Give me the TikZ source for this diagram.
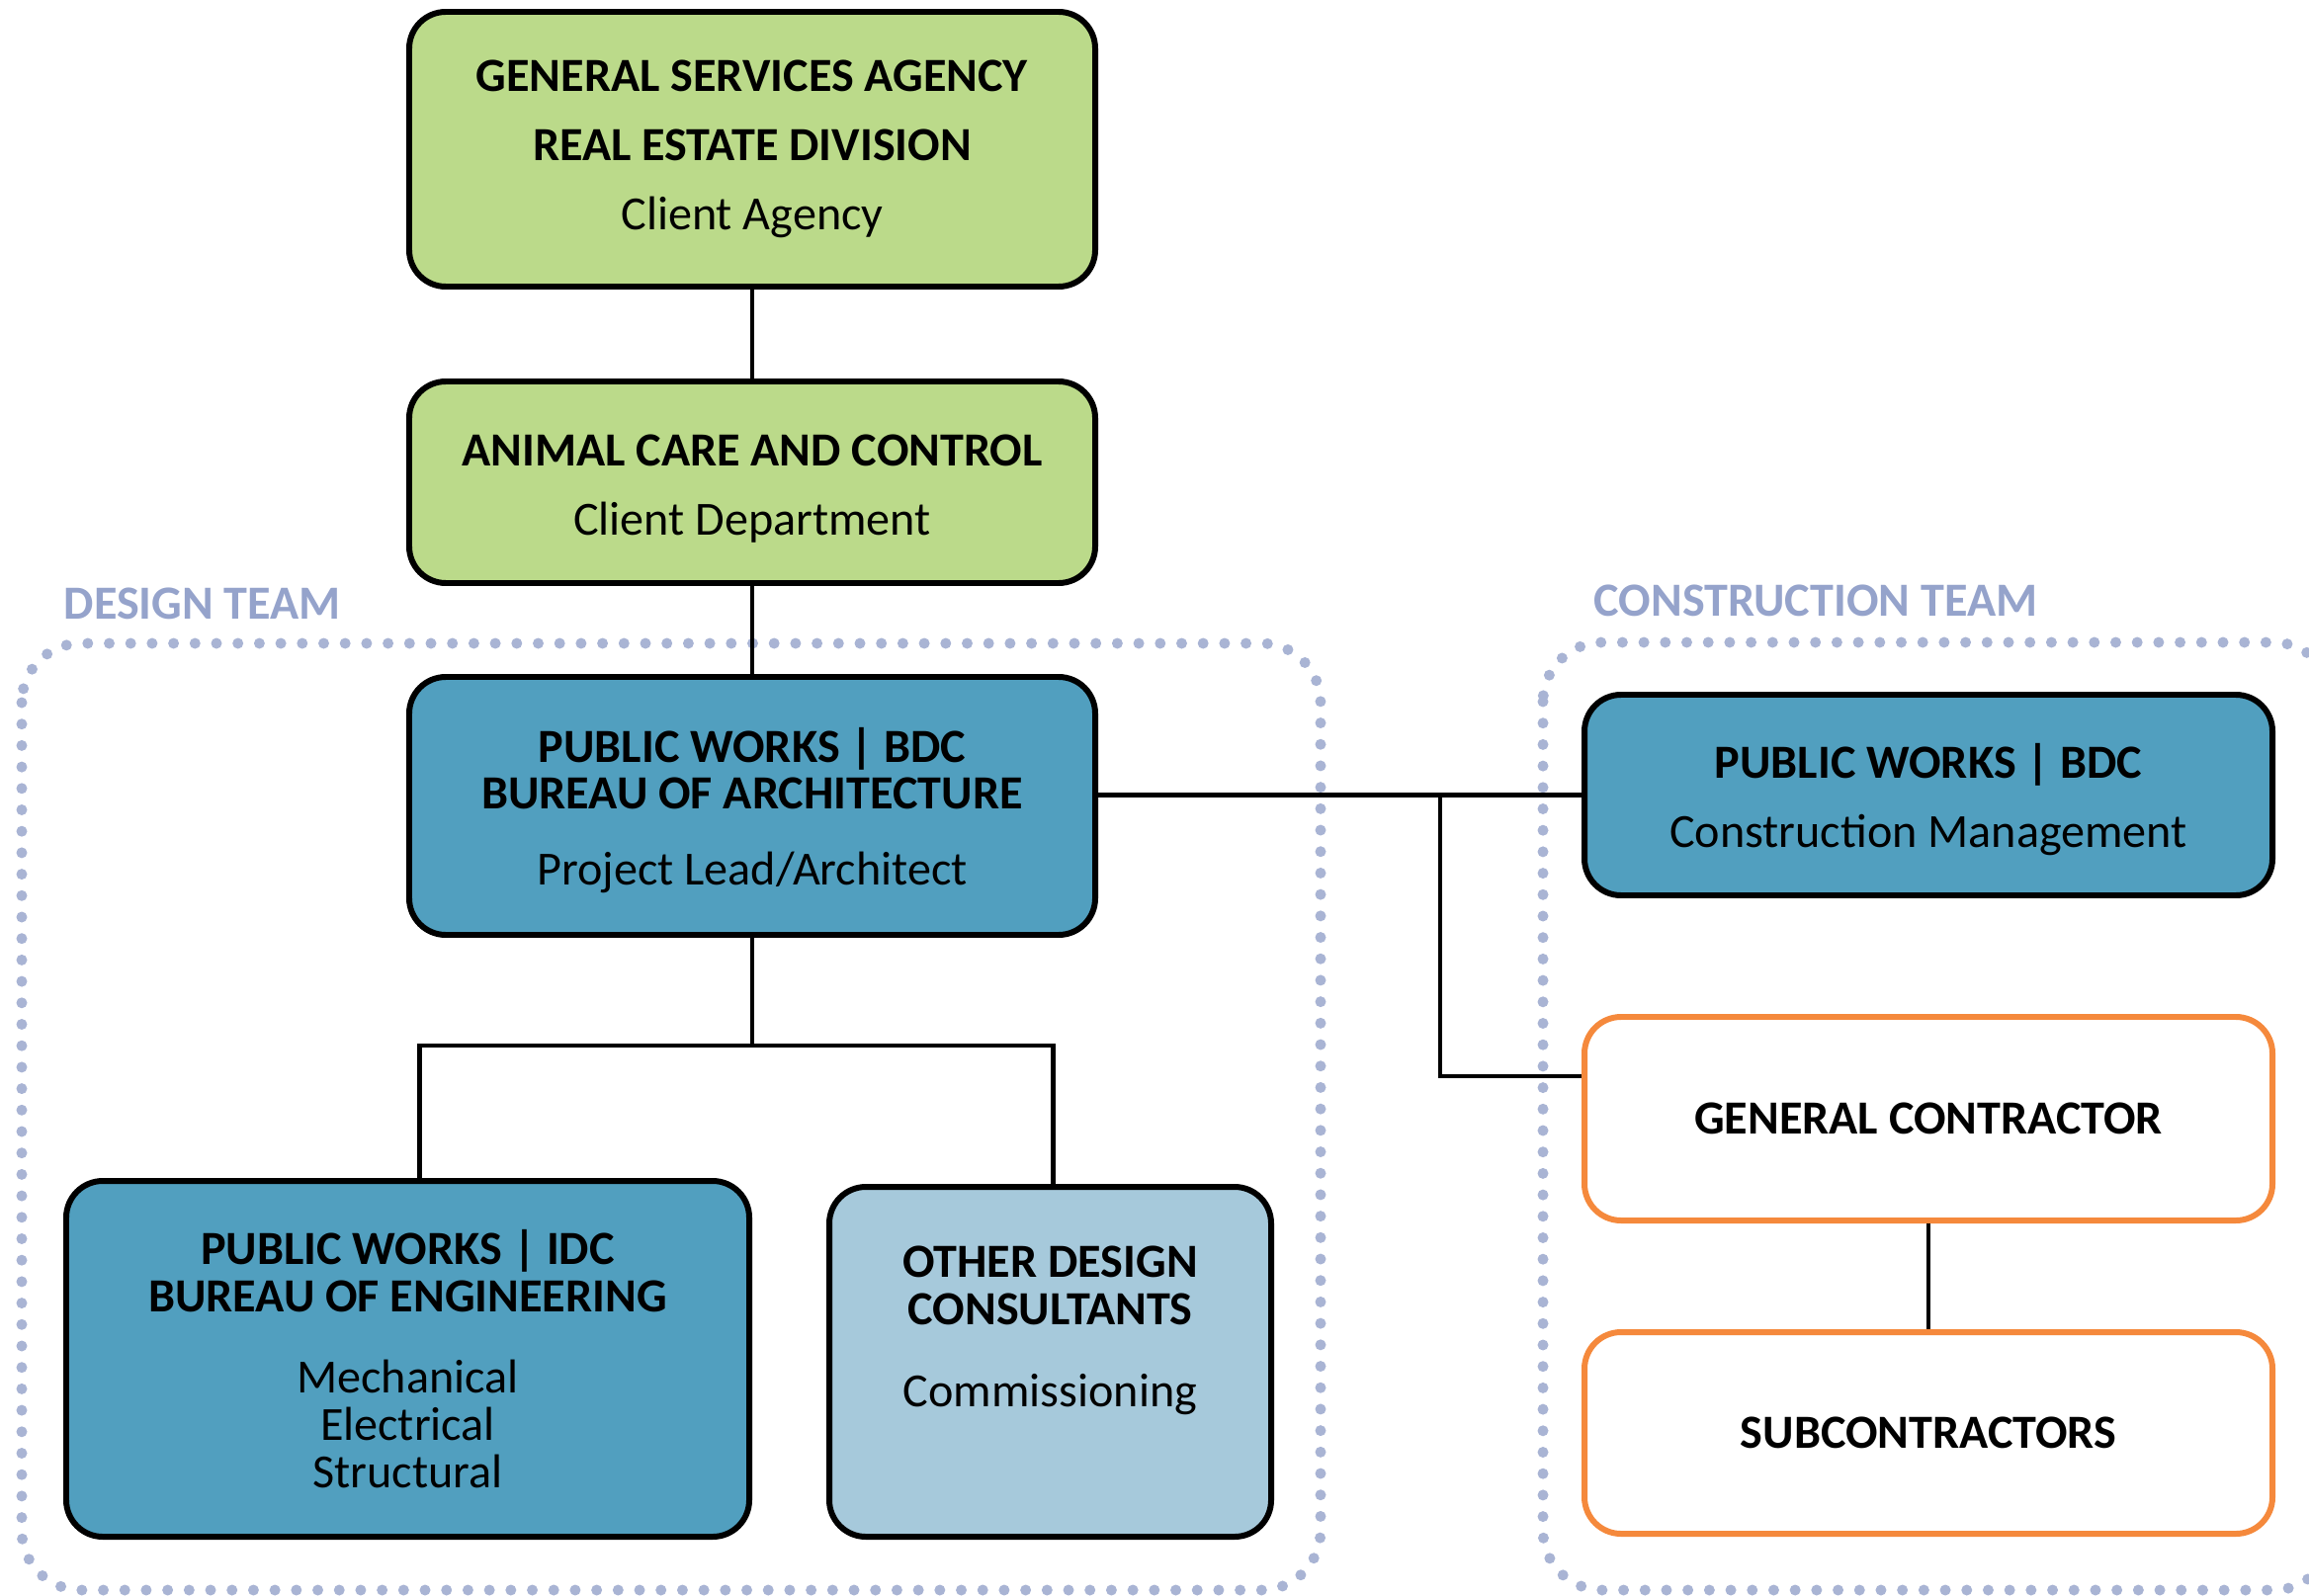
\documentclass[tikz,border=0pt]{standalone}
\usepackage{fontspec}
\setmainfont{Carlito}
\definecolor{clientgreen}{HTML}{BBDA8A}
\definecolor{bdcblue}{HTML}{519FBF}
\definecolor{otherblue}{HTML}{A6C9DB}
\definecolor{gcorange}{HTML}{F5893C}
\definecolor{teamdot}{HTML}{A9B4D4}
\definecolor{teamtext}{HTML}{95A3CB}
\newcommand{\lowerby}{\rule{0pt}{.44cm}}
\begin{document}
\begin{tikzpicture}
        \tikzstyle{block} = [rectangle, rounded corners=.37cm, text=black, align=center, draw=black, line width=1.7pt, font=\fontsize{13.7}{13.6}\selectfont, inner sep=0pt]
        \tikzstyle{line} = [draw=black, line width=1.35pt]
        \tikzstyle{team} = [draw=teamdot, line width=.11cm, line cap=round, dash pattern=on 0pt off .217cm, rounded corners=.6cm]
        \tikzstyle{teamlabel} = [anchor=west, text=teamtext, font=\bfseries\fontsize{13.7}{14}\selectfont, inner sep=0pt]
        \clip (0,0) rectangle (23.36,-16.14);
        % team frames
        \draw[team] (0.22,-6.51) rectangle (13.36,-16.09);
        \draw[team] (15.61,-6.50) rectangle (23.60,-16.09);
        \node[teamlabel] (designlbl) at (0.64,-6.11) {DESIGN TEAM};
        \node[teamlabel] (conslbl) at (16.12,-6.08) {CONSTRUCTION TEAM};
        % client side
        \node[block,fill=clientgreen, minimum width=6.94cm, minimum height=2.78cm] (gsa) at (7.61,-1.51) {\textbf{GENERAL SERVICES AGENCY}\\[.22cm]\textbf{REAL ESTATE DIVISION}\\[.22cm]Client Agency};
        \node[block,fill=clientgreen, minimum width=6.94cm, minimum height=2.04cm] (acc) at (7.61,-4.88) {\lowerby\textbf{ANIMAL CARE AND CONTROL}\\[.22cm]Client Department};
        % design team
        \node[block,fill=bdcblue, minimum width=6.94cm, minimum height=2.61cm] (boa) at (7.61,-8.155) {\lowerby\textbf{PUBLIC WORKS \textbar{} BDC}\\\textbf{BUREAU OF ARCHITECTURE}\\[.29cm]Project Lead/Architect};
        \node[block,fill=bdcblue, minimum width=6.91cm, minimum height=3.60cm] (idc) at (4.125,-13.75) {\textbf{PUBLIC WORKS \textbar{} IDC}\\\textbf{BUREAU OF ENGINEERING}\\[.34cm]Mechanical\\Electrical\\Structural};
        \node[block,fill=otherblue, minimum width=4.47cm, minimum height=3.54cm] (odc) at (10.625,-13.78) {\textbf{OTHER DESIGN}\\\textbf{CONSULTANTS}\\[.35cm]Commissioning\\[.1cm]\strut};
        % construction team
        \node[block,fill=bdcblue, minimum width=6.96cm, minimum height=2.03cm] (cm) at (19.51,-8.045) {\lowerby\textbf{PUBLIC WORKS \textbar{} BDC}\\[.22cm]Construction Management};
        \node[block,fill=white,draw=gcorange, minimum width=6.96cm, minimum height=2.06cm] (gc) at (19.51,-11.32) {\textbf{GENERAL CONTRACTOR}};
        \node[block,fill=white,draw=gcorange, minimum width=6.96cm, minimum height=2.04cm] (sub) at (19.51,-14.50) {\textbf{SUBCONTRACTORS}};
        \coordinate (jn) at (14.57,-8.045);
        \coordinate (split) at ([yshift=-1.09cm]boa.south);
        \draw[line] (gsa) to (acc);
        \draw[line] (acc) to (boa);
        \draw[line] (boa.east |- cm.west) to (cm.west);
        \draw[line] (jn) |- ([yshift=.43cm]gc.west);
        \draw[line] (boa.south) to (split);
        \draw[line] ([xshift=.12cm]idc.north) |- (split) -| ([xshift=.03cm]odc.north);
        \draw[line] (gc) to (sub);
    \end{tikzpicture}
\end{document}
